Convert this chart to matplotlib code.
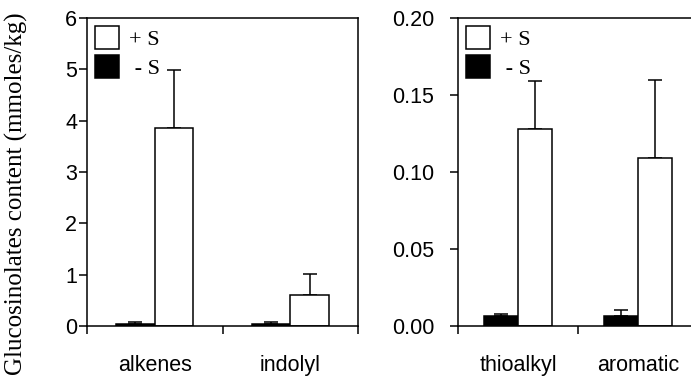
import matplotlib.pyplot as plt
import numpy as np

# left panel (mmoles/kg)
left_cats = ['alkenes', 'indolyl']
left_plus = [3.86, 0.60]
left_plus_err = [1.12, 0.42]
left_minus = [0.03, 0.03]
left_minus_err = [0.04, 0.04]

# right panel
right_cats = ['thioalkyl', 'aromatic']
right_plus = [0.128, 0.109]
right_plus_err = [0.031, 0.051]
right_minus = [0.0065, 0.0065]
right_minus_err = [0.0013, 0.0040]

SANS = 'Liberation Sans'
SERIF = 'Liberation Serif'
LW = 1.1
W = 0.285


def panel(ax, cats, plus, plus_err, minus, minus_err, ymax, yticks, ylabels, ypad):
    x = np.arange(len(cats)) + 0.5
    ax.bar(x - W / 2, minus, W, color='black', edgecolor='black', linewidth=LW, label=' - S', zorder=2)
    ax.bar(x + W / 2, plus, W, color='white', edgecolor='black', linewidth=LW, label='+ S', zorder=2)
    ax.errorbar(x - W / 2, minus, yerr=[np.zeros(len(cats)), minus_err], fmt='none',
                ecolor='black', elinewidth=LW, capsize=5, capthick=LW, zorder=1)
    ax.errorbar(x + W / 2, plus, yerr=[np.zeros(len(cats)), plus_err], fmt='none',
                ecolor='black', elinewidth=LW, capsize=5, capthick=LW, zorder=1)

    ax.set_xlim(0, len(cats))
    ax.set_ylim(0, ymax)
    ax.set_xticks(np.arange(len(cats) + 1))
    ax.set_xticklabels([])
    ax.set_xticks(x, minor=True)
    ax.set_xticklabels(cats, minor=True, fontfamily=SANS, fontsize=15.5)
    ax.tick_params(axis='x', which='minor', length=0, pad=21)
    ax.tick_params(axis='x', which='major', direction='out', length=6, width=LW)
    ax.set_yticks(yticks)
    ax.set_yticklabels(ylabels, fontfamily=SANS, fontsize=15.5)
    ax.tick_params(axis='y', direction='out', length=6, width=LW, pad=ypad)
    for s in ax.spines.values():
        s.set_linewidth(LW)

    h, l = ax.get_legend_handles_labels()
    ax.legend(h[::-1], l[::-1], loc='upper left', frameon=False,
              prop={'family': SERIF, 'size': 16}, handlelength=1.1, handleheight=1.25,
              labelspacing=0.22, handletextpad=0.45, borderaxespad=0.15, borderpad=0.2)


fig = plt.figure(figsize=(6.91, 3.79), dpi=100)
ax1 = fig.add_axes([87 / 691, 53 / 379, 271 / 691, 308 / 379])
ax2 = fig.add_axes([458 / 691, 53 / 379, 240 / 691, 308 / 379])

panel(ax1, left_cats, left_plus, left_plus_err, left_minus, left_minus_err,
      6, [0, 1, 2, 3, 4, 5, 6], ['0', '1', '2', '3', '4', '5', '6'], 1)
panel(ax2, right_cats, right_plus, right_plus_err, right_minus, right_minus_err,
      0.20, [0, 0.05, 0.10, 0.15, 0.20], ['0.00', '0.05', '0.10', '0.15', '0.20'], 11)

fig.text(16 / 691, 1 - 193.5 / 379, 'Glucosinolates content (mmoles/kg)', rotation=90,
         ha='center', va='center', fontfamily=SERIF, fontsize=18)

fig.savefig('out.png', dpi=100)
